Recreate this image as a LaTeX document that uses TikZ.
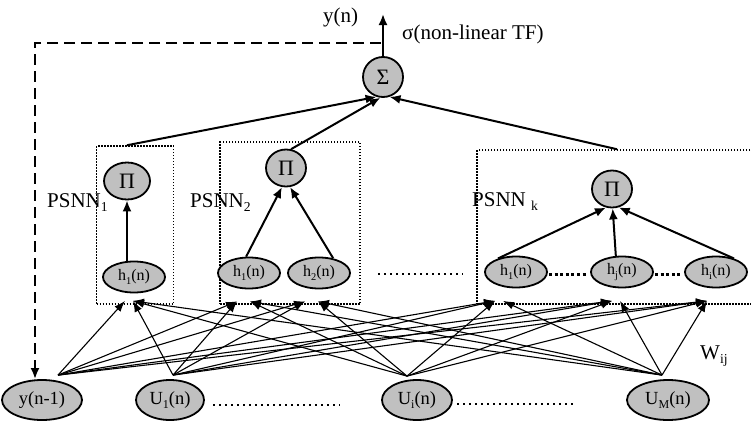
\documentclass[tikz,border=0pt]{standalone}
\usepackage{fontspec}
\setmainfont{Liberation Serif}
\usepackage{graphicx}
\usetikzlibrary{arrows.meta,shapes.geometric,calc}
% lowered, reduced subscript in text
\newcommand\lo[1]{\raisebox{-0.22em}{\scalebox{0.65}{#1}}}
\definecolor{nodegray}{HTML}{C0C0C0}
\tikzset{
  unit/.style={ellipse, draw=black, line width=1.8pt, fill=nodegray, inner sep=0pt,
               font=\fontsize{18.5}{20}\selectfont},
  inp/.style={unit, minimum height=40pt},
  hid/.style={unit, font=\fontsize{16}{18}\selectfont, minimum width=62pt, minimum height=31pt},
  prod/.style={unit, font=\fontsize{22}{24}\selectfont},
  psbox/.style={draw=black, line width=1.5pt, dash pattern=on 1.5pt off 1.5pt, inner sep=0pt},
  lbl/.style={inner sep=0pt, font=\fontsize{21}{25}\selectfont},
  wire/.style={line width=1.1pt, -{Latex[length=11pt,width=8pt]}},
  link/.style={line width=2pt, -{Latex[length=11pt,width=9pt]}},
  fbline/.style={line width=2.4pt, dash pattern=on 11pt off 6pt, -{Latex[length=11pt,width=9pt]}},
  dotrow/.style={line width=2.2pt, dash pattern=on 2.2pt off 3.8pt},
  bolddots/.style={line width=3pt, dash pattern=on 3pt off 2.6pt},
}
\begin{document}
\begin{tikzpicture}[x=1pt,y=-1pt]
\useasboundingbox (0,0) rectangle (751,423);
\clip (0,0) rectangle (751,423);

% dotted frames of the sub-networks
\node[psbox, minimum width=77pt, minimum height=158pt] (box1) at (135,225) {};
\node[psbox, minimum width=140pt, minimum height=162pt] (box2) at (290,223) {};
\node[psbox, minimum width=340pt, minimum height=154pt] (boxk) at (647,227) {};

% input units
\node[inp, minimum width=80pt] (yn1) at (42,400) {y(n-1)};
\node[inp, minimum width=68pt] (u1) at (170,400) {U\lo{1}(n)};
\node[inp, minimum width=70pt] (ui) at (417,400) {U\lo{i}(n)};
\node[inp, minimum width=82pt] (um) at (668,400) {U\lo{M}(n)};

% hidden summing units
\node[hid] (p1h) at (134,277) {h\lo{1}(n)};
\node[hid] (p2a) at (249,273) {h\lo{1}(n)};
\node[hid] (p2b) at (319,273) {h\lo{2}(n)};
\node[hid] (hk1) at (516,272) {h\lo{1}(n)};
\node[hid] (hkj) at (622,272) {h\lo{j}(n)};
\node[hid] (hki) at (716,272) {h\lo{i}(n)};

% product units
\node[prod, minimum width=46pt, minimum height=37pt] (p1pi) at (127,181) {Π};
\node[prod, minimum width=40pt, minimum height=37pt] (p2pi) at (286,168) {Π};
\node[prod, minimum width=40pt, minimum height=37pt] (pkpi) at (612,189) {Π};

% output summing unit
\node[prod, minimum width=40pt, minimum height=40pt] (sig) at (383,77) {Σ};

% labels
\node[lbl, anchor=base west] (l1) at (47,207) {PSNN\lo{1}};
\node[lbl, anchor=base west] (l2) at (190,207) {PSNN\lo{2}};
\node[lbl, anchor=base west] (lk) at (472,206) {PSNN \lo{k}};
\node[lbl, anchor=base west] (ylab) at (323,22) {y(n)};
\node[lbl, anchor=base west] (sglab) at (402,39) {σ(non-linear TF)};
\node[lbl, anchor=base west] (wlab) at (700,359) {W\lo{ij}};

% output and delayed feedback
\coordinate (top) at (383,14);
\draw[link] (sig.north) -- (top);
\coordinate (tap) at (381,43);
\coordinate (fbc) at (35,43);
\draw[fbline] (tap) -- (fbc) -- (fbc |- yn1.north);

% sub-network outputs into the summing unit
\draw[link] (box1.north -| p1pi) -- (sig.252);
\draw[link] (p2pi.75) -- (sig.263);
\draw[link] ($(boxk.north -| pkpi)+(5,0)$) -- (sig.288);

% hidden units into product units
\draw[link] (p1pi |- p1h.north) -- (p1pi.south);
\draw[link] (p2a.100) -- (p2pi.258);
\draw[link] (p2b.46) -- (p2pi.282);
\draw[link] (hk1.143) -- (pkpi.252);
\draw[link] (hkj.111) -- (pkpi.272);
\draw[link] (hki.37) -- (pkpi.290);

% weighted input connections
\coordinate (s0) at ($(yn1.north)+(16,-4)$);
\coordinate (s1) at ($(u1.north)+(3,-4)$);
\coordinate (s2) at ($(ui.north)+(-10,-3)$);
\coordinate (s3) at ($(um.north)+(-6,-4)$);
\coordinate (p1hL) at ($(p1h.south)+(-9,7.5)$);
\coordinate (p1hR) at ($(p1h.south)+(-1,7.5)$);
\coordinate (p2aL) at ($(p2a.south)+(-12,12)$);
\coordinate (p2aR) at ($(p2a.south)+(1,12)$);
\coordinate (p2bL) at ($(p2b.south)+(-14,12)$);
\coordinate (p2bR) at ($(p2b.south)+(-1,12)$);
\coordinate (hk1L) at ($(hk1.south)+(-21,12.5)$);
\coordinate (hk1R) at ($(hk1.south)+(-13,12.5)$);
\coordinate (hkjL) at ($(hkj.south)+(-10,12.5)$);
\coordinate (hkjR) at ($(hkj.south)+(-2,12.5)$);
\coordinate (hkiL) at ($(hki.south)+(-9,12.5)$);

\draw[wire] (s0) -- (p1hL);
\foreach \s in {s1,s2,s3} \draw[wire] (\s) -- (p1hR);
\foreach \s in {s0,s1} \draw[wire] (\s) -- (p2aL);
\foreach \s in {s2,s3} \draw[wire] (\s) -- (p2aR);
\foreach \s in {s0,s1} \draw[wire] (\s) -- (p2bL);
\foreach \s in {s2,s3} \draw[wire] (\s) -- (p2bR);
\foreach \s in {s0,s1,s2} \draw[wire] (\s) -- (hk1L);
\draw[wire] (s3) -- (hk1R);
\foreach \s in {s0,s1,s2} \draw[wire] (\s) -- (hkjL);
\draw[wire] (s3) -- (hkjR);
\foreach \s in {s0,s1,s2,s3} \draw[wire] (\s) -- (hkiL);

% ellipsis rows
\draw[dotrow] (213,405) -- (340,405);
\draw[dotrow] (457,404) -- (575,404);
\draw[dotrow] (378,274) -- (463,274);
\draw[bolddots] (549,274) -- (588,274);
\draw[bolddots] (655,274) -- (680,274);
\end{tikzpicture}
\end{document}
